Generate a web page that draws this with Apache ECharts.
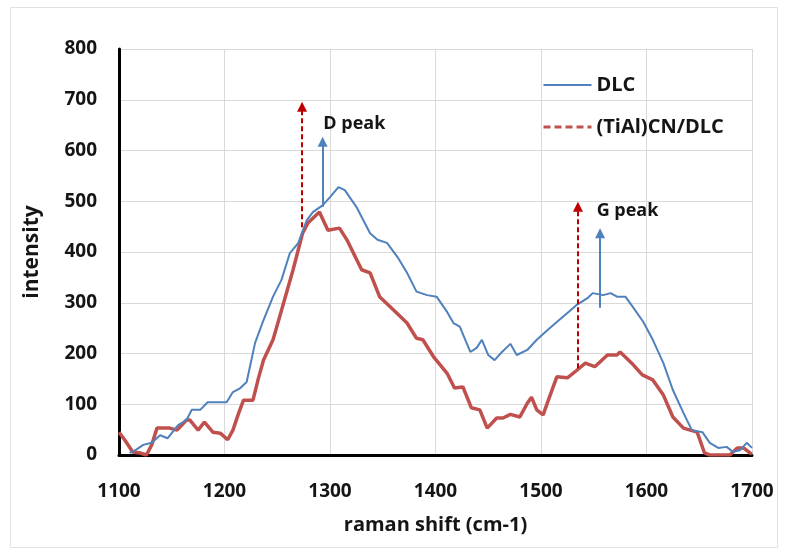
<!DOCTYPE html>
<html>
<head>
<meta charset="utf-8">
<script src="https://cdn.jsdelivr.net/npm/echarts@6/dist/echarts.min.js"></script>
<style>html,body{margin:0;padding:0;background:#fff}#c{width:787px;height:550px}</style>
</head>
<body>
<div id="c"></div>
<script>
// ---- data ----
const xTicks = [1100, 1200, 1300, 1400, 1500, 1600, 1700];
const yTicks = [0, 100, 200, 300, 400, 500, 600, 700, 800];
const seriesNames = ['DLC', '(TiAl)CN/DLC'];

const dlcX = [1110,1116,1123,1131,1139,1146,1156,1164,1169,1177,1184,1193,1202,1208,1215,1221,1229,1237,1246,1254,1262,1270,1278,1284,1293,1300,1308,1314,1325,1338,1345,1354,1364,1373,1382,1392,1401,1411,1417,1423,1433,1439,1444,1450,1456,1463,1471,1477,1487,1496,1506,1515,1525,1534,1544,1549,1559,1566,1572,1580,1587,1597,1606,1616,1625,1635,1643,1653,1660,1668,1676,1682,1689,1695,1700];
const dlcY = [4,10,20,24,39,33,59,69,89,89,104,104,104,124,132,144,221,266,312,345,398,418,463,479,492,508,528,522,489,437,424,418,390,359,322,315,312,282,260,253,203,211,227,197,187,203,219,197,207,227,246,262,280,296,309,319,315,319,312,312,292,262,227,181,128,83,49,45,24,14,16,6,10,24,14];

const tiX = [1100,1106,1113,1120,1126,1131,1136,1148,1155,1164,1167,1175,1181,1189,1196,1203,1208,1213,1218,1227,1232,1237,1246,1255,1265,1274,1279,1290,1298,1309,1316,1330,1338,1347,1360,1373,1382,1388,1398,1411,1418,1426,1434,1442,1449,1458,1464,1471,1480,1487,1491,1496,1502,1508,1515,1525,1534,1542,1551,1563,1572,1575,1586,1596,1606,1616,1625,1635,1648,1655,1660,1679,1686,1692,1698,1700];
const tiY = [45,28,6,4,0,20,53,53,49,69,69,49,65,45,43,30,49,80,108,108,150,187,227,292,365,437,457,479,443,447,424,365,359,312,286,260,230,227,194,161,132,134,93,89,53,73,73,80,75,102,114,89,79,114,154,152,167,181,174,197,197,203,181,158,148,118,75,53,45,4,0,0,14,14,4,2];

// arrows: [x, yStart, yEnd]
const dArrowRed  = [1273.5, 449, 686];
const dArrowBlue = [1293, 489, 617];
const gArrowRed  = [1535, 171, 489];
const gArrowBlue = [1556, 290, 437];
// peak labels: [x, y, text]
const dLabel = [1323, 652, 'D peak'];
const gLabel = [1582, 481, 'G peak'];

const BLUE = '#4F81BD', RED = '#C0504D', ARROW_RED = '#C00000';
const FONT = 'Open Sans';
const TXT = '#151515';
const NOSYM = { color: 'rgba(0,0,0,0)', borderColor: 'rgba(0,0,0,0)', borderWidth: 0 };

function pairs(xs, ys) { return xs.map((x, i) => [x, ys[i]]); }
function arrow(a) { return [{ coord: [a[0], a[1]] }, { coord: [a[0], a[2]] }]; }

const chart = echarts.init(document.getElementById('c'), null, { renderer: 'canvas' });
chart.setOption({
  animation: false,
  backgroundColor: '#fff',
  textStyle: { fontFamily: FONT },
  graphic: [{
    type: 'rect', shape: { x: 10.5, y: 7.5, width: 767, height: 540 },
    style: { fill: 'none', stroke: '#e2e2e2', lineWidth: 1 }, silent: true, z: -1
  }],
  grid: { left: 119, right: 35, top: 49, bottom: 95 },
  legend: {
    orient: 'vertical', left: 537, top: 70, itemGap: 22,
    itemWidth: 48, itemHeight: 14,
    textStyle: { fontFamily: FONT, fontWeight: 'bold', fontSize: 20, color: TXT },
    data: [
      { name: seriesNames[0], itemStyle: NOSYM, lineStyle: { width: 2 } },
      { name: seriesNames[1], itemStyle: NOSYM, lineStyle: { type: [7, 4], width: 3 } }
    ]
  },
  xAxis: {
    type: 'value', min: xTicks[0], max: xTicks[xTicks.length - 1], interval: 100,
    name: 'raman shift (cm-1)', nameLocation: 'middle', nameGap: 60,
    nameTextStyle: { fontFamily: FONT, fontWeight: 'bold', fontSize: 20, color: TXT },
    axisLine: { show: true, onZero: false, lineStyle: { color: '#000', width: 3 } },
    axisTick: { show: false },
    axisLabel: { margin: 27, fontFamily: FONT, fontWeight: 'bold', fontSize: 19, color: TXT, formatter: v => String(v) },
    splitLine: { show: true, lineStyle: { color: '#d9d9d9', width: 1 } }
  },
  yAxis: {
    type: 'value', min: yTicks[0], max: yTicks[yTicks.length - 1], interval: 100,
    name: 'intensity', nameLocation: 'middle', nameGap: 76,
    nameTextStyle: { fontFamily: FONT, fontWeight: 'bold', fontSize: 21, color: TXT },
    axisLine: { show: true, lineStyle: { color: '#000', width: 3 } },
    axisTick: { show: false },
    axisLabel: { margin: 22, fontFamily: FONT, fontWeight: 'bold', fontSize: 19, color: TXT, formatter: v => String(v) },
    splitLine: { show: true, lineStyle: { color: '#d9d9d9', width: 1 } }
  },
  series: [
    {
      name: seriesNames[0], type: 'line', data: pairs(dlcX, dlcY),
      symbol: 'none', smooth: false, z: 3,
      lineStyle: { color: BLUE, width: 2 }, itemStyle: { color: BLUE },
      markLine: {
        silent: true, symbol: ['none', 'triangle'], symbolSize: 10,
        label: { show: false },
        lineStyle: { color: BLUE, width: 2, type: 'solid' },
        data: [arrow(dArrowBlue), arrow(gArrowBlue)]
      },
      markPoint: {
        silent: true, symbol: 'rect', symbolSize: 1,
        itemStyle: { color: 'rgba(0,0,0,0)' },
        label: { show: true, position: 'inside', fontFamily: FONT, fontWeight: 'bold', fontSize: 18, color: TXT, formatter: p => p.name },
        data: [
          { name: dLabel[2], coord: [dLabel[0], dLabel[1]] },
          { name: gLabel[2], coord: [gLabel[0], gLabel[1]] }
        ]
      }
    },
    {
      name: seriesNames[1], type: 'line', data: pairs(tiX, tiY),
      symbol: 'none', smooth: false, z: 2,
      lineStyle: { color: RED, width: 3.5 }, itemStyle: { color: RED },
      markLine: {
        silent: true, symbol: ['none', 'triangle'], symbolSize: 10,
        label: { show: false },
        lineStyle: { color: ARROW_RED, width: 2, type: [5, 3] },
        data: [arrow(dArrowRed), arrow(gArrowRed)]
      }
    }
  ]
});
</script>
</body>
</html>
